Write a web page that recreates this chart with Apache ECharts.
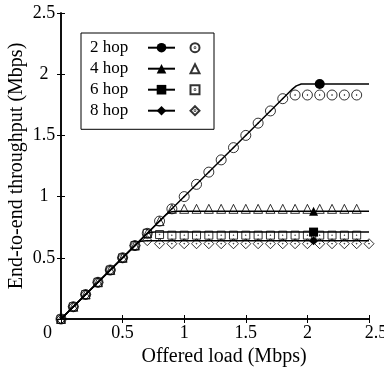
<!DOCTYPE html>
<html>
<head>
<meta charset="utf-8">
<script src="https://cdn.jsdelivr.net/npm/echarts@6/dist/echarts.min.js"></script>
<style>
  html, body { margin: 0; padding: 0; background: #fff; }
  #chart { width: 384px; height: 369px; }
</style>
</head>
<body>
<div id="chart"></div>
<script>
// measured points (hollow markers)
const load = [0, 0.1, 0.2, 0.3, 0.4, 0.5, 0.6, 0.7, 0.8, 0.9, 1.0, 1.1, 1.2, 1.3, 1.4, 1.5, 1.6, 1.7, 1.8, 1.9, 2.0, 2.1, 2.2, 2.3, 2.4];
const load8 = [0, 0.1, 0.2, 0.3, 0.4, 0.5, 0.6, 0.7, 0.8, 0.9, 1.0, 1.1, 1.2, 1.3, 1.4, 1.5, 1.6, 1.7, 1.8, 1.9, 2.0, 2.1, 2.2, 2.3, 2.4, 2.5];
const sim2 = [0, 0.1, 0.2, 0.3, 0.4, 0.5, 0.6, 0.7, 0.8, 0.9, 1.0, 1.1, 1.2, 1.3, 1.4, 1.5, 1.6, 1.7, 1.8, 1.83, 1.83, 1.83, 1.83, 1.83, 1.83];
const sim4 = [0, 0.1, 0.2, 0.3, 0.4, 0.5, 0.6, 0.7, 0.8, 0.9, 0.9, 0.9, 0.9, 0.9, 0.9, 0.9, 0.9, 0.9, 0.9, 0.9, 0.9, 0.9, 0.9, 0.9, 0.9];
const sim6 = [0, 0.1, 0.2, 0.3, 0.4, 0.5, 0.6, 0.7, 0.69, 0.685, 0.685, 0.685, 0.685, 0.685, 0.685, 0.685, 0.685, 0.685, 0.685, 0.685, 0.685, 0.685, 0.685, 0.685, 0.685];
const sim8 = [0, 0.1, 0.2, 0.3, 0.4, 0.5, 0.6, 0.64, 0.615, 0.615, 0.615, 0.615, 0.615, 0.615, 0.615, 0.615, 0.615, 0.615, 0.615, 0.615, 0.615, 0.615, 0.615, 0.615, 0.615, 0.615];

// analytical curves (solid lines)
const modelX2 = [0, 1.85, 1.88, 1.91, 1.95, 2.1, 2.5];
const modelY2 = [0, 1.85, 1.88, 1.905, 1.92, 1.92, 1.92];
const modelX4 = [0, 0.85, 0.87, 0.9, 0.95, 2.05, 2.5];
const modelY4 = [0, 0.85, 0.865, 0.877, 0.88, 0.88, 0.88];
const modelX6 = [0, 0.68, 0.7, 0.72, 0.76, 2.05, 2.5];
const modelY6 = [0, 0.68, 0.697, 0.706, 0.71, 0.71, 0.71];
const modelX8 = [0, 0.61, 0.63, 0.65, 0.69, 2.05, 2.5];
const modelY8 = [0, 0.61, 0.627, 0.636, 0.64, 0.64, 0.64];
const markX = [2.1, 2.05, 2.05, 2.05];

const hops = ['2 hop', '4 hop', '6 hop', '8 hop'];
const ticks = [0, 0.5, 1, 1.5, 2, 2.5];

const FONT = '"Liberation Serif", "DejaVu Serif", serif';
const DOT = 'M9.2,10A0.8,0.8,0,1,1,10.8,10A0.8,0.8,0,1,1,9.2,10Z';
const hollow = [
  'path://M0,10A10,10,0,1,1,20,10A10,10,0,1,1,0,10Z' + DOT,
  'triangle',
  'path://M0,0L20,0L20,20L0,20Z' + DOT,
  'path://M10,0L20,10L10,20L0,10Z' + DOT
];
const hollowSize = [10, 9, 8, 10];
const filled = ['circle', 'triangle', 'rect', 'diamond'];
const filledSize = [10, 9, 9, 9];

const zip = (xs, ys) => xs.map((x, i) => [x, ys[i]]);
const models = [zip(modelX2, modelY2), zip(modelX4, modelY4), zip(modelX6, modelY6), zip(modelX8, modelY8)];
const sims = [zip(load, sim2), zip(load, sim4), zip(load, sim6), zip(load8, sim8)];

const chart = echarts.init(document.getElementById('chart'), null, { renderer: 'canvas' });

const axisCommon = {
  type: 'value',
  min: 0,
  max: 2.5,
  interval: 0.5,
  splitLine: { show: false },
  axisLine: { lineStyle: { color: '#000', width: 1.5 } },
  axisTick: { inside: true, length: 4, lineStyle: { color: '#000', width: 1 } }
};

const series = [];
hops.forEach((h, i) => {
  series.push({
    name: h,
    type: 'line',
    data: models[i],
    clip: false,
    symbol: filled[i],
    symbolSize: (v) => (v[0] === markX[i] ? filledSize[i] : 0),
    lineStyle: { color: '#000', width: 1.5 },
    itemStyle: { color: '#000' },
    z: 3
  });
});
hops.forEach((h, i) => {
  series.push({
    name: h + ' sim',
    type: 'scatter',
    data: sims[i],
    clip: false,
    symbol: hollow[i],
    symbolSize: hollowSize[i],
    itemStyle: { color: 'transparent', borderColor: '#000', borderWidth: 1 },
    z: 2
  });
});

chart.setOption({
  animation: false,
  backgroundColor: '#fff',
  textStyle: { fontFamily: FONT, color: '#000' },
  grid: { left: 61, right: 15, top: 13, bottom: 50, outerBoundsMode: 'none' },
  legend: [
    {
      data: hops,
      orient: 'vertical',
      align: 'right',
      left: 81,
      top: 33,
      padding: [4.7, 38, 8.6, 9],
      itemGap: 1,
      itemWidth: 27,
      itemHeight: 12,
      selectedMode: false,
      borderColor: '#000',
      borderWidth: 1,
      backgroundColor: '#fff',
      formatter: (name) => '{n|' + name + '}',
      textStyle: {
        rich: { n: { width: 53, height: 20, lineHeight: 20, align: 'left', fontSize: 17, fontFamily: FONT, color: '#000' } }
      }
    },
    {
      data: hops.map(h => h + ' sim'),
      orient: 'vertical',
      align: 'left',
      left: 189.5,
      top: 37.7,
      padding: 0,
      itemGap: 1,
      itemWidth: 9,
      itemHeight: 9,
      selectedMode: false,
      z: 5,
      formatter: () => '{e| }',
      textStyle: { rich: { e: { width: 1, height: 20, lineHeight: 20, fontSize: 10 } } }
    }
  ],
  xAxis: [
    {
      ...axisCommon,
      position: 'bottom',
      name: 'Offered load (Mbps)',
      nameLocation: 'middle',
      nameGap: 22,
      nameTextStyle: { fontSize: 20, fontFamily: FONT, color: '#000', padding: [0, 0, 0, 18] },
      axisLabel: {
        fontSize: 18,
        fontFamily: FONT,
        color: '#000',
        margin: 5,
        customValues: ticks,
        formatter: (v) => (v === 0 ? '{z|0}' : v === 2.5 ? '{r|2.5}' : String(v)),
        rich: {
          z: { fontSize: 18, fontFamily: FONT, color: '#000', padding: [0, 27, 0, 0] },
          r: { fontSize: 18, fontFamily: FONT, color: '#000', padding: [0, 0, 0, 14] }
        }
      }
    },
    { ...axisCommon, position: 'top', axisLabel: { show: false } }
  ],
  yAxis: [
    {
      ...axisCommon,
      position: 'left',
      name: 'End-to-end throughput (Mbps)',
      nameLocation: 'middle',
      nameGap: 34,
      nameMoveOverlap: false,
      nameTextStyle: { fontSize: 20, fontFamily: FONT, color: '#000' },
      axisLabel: { fontSize: 18, fontFamily: FONT, color: '#000', margin: 17, align: 'center', showMinLabel: false }
    },
    { ...axisCommon, position: 'right', axisLabel: { show: false } }
  ],
  series: series
});
</script>
</body>
</html>
